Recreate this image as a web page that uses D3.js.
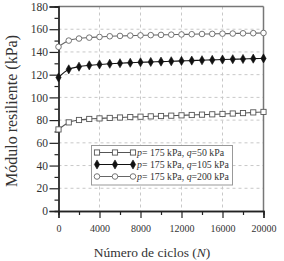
<!DOCTYPE html>
<html>
<head>
<meta charset="utf-8">
<script src="https://cdn.jsdelivr.net/npm/d3@7"></script>
<style>
body{margin:0;background:#fff;}
text{font-family:"Liberation Serif","Times New Roman",Times,serif;fill:#333;}
</style>
</head>
<body>
<div id="container"></div>
<script>
const width = 284;
const height = 261;

// data: modulus (kPa) every 1000 cycles
const cycles = d3.range(0, 20001, 1000);
const q50 = [71.8, 78, 80.1, 81, 81.5, 81.9, 82.3, 82.7, 83, 83.3, 83.6, 83.9, 84.2, 84.5, 84.8, 85.1, 85.4, 85.8, 86.2, 86.8, 87.2];
const q105 = [117.5, 124.7, 127, 128.2, 129, 129.6, 130.1, 130.5, 130.9, 131.2, 131.5, 131.8, 132.1, 132.4, 132.7, 133, 133.3, 133.6, 133.8, 134.1, 134.3];
const q200 = [144.5, 150, 151.8, 152.6, 153.2, 153.8, 154.1, 154.4, 154.6, 154.8, 155, 155.2, 155.4, 155.6, 155.8, 155.9, 156.1, 156.2, 156.4, 156.5, 156.7];
const qLabels = ['50 kPa', '105 kPa', '200 kPa'];
const xTicks = [0, 4000, 8000, 12000, 16000, 20000];
const yTicks = [0, 20, 40, 60, 80, 100, 120, 140, 160, 180];

const serif = '"Liberation Serif","Times New Roman",Times,serif';
let padL = 58.5, padR = 263.5, padT = 6.5, padB = 211;

let svg = d3.select('#container').append('svg')
  .attr('width', width).attr('height', height);

let x = d3.scaleLinear().domain([0, 20000]).range([padL, padR]);
let y = d3.scaleLinear().domain([0, 180]).range([padB, padT]);

// grid
svg.append('g').selectAll('line').data(xTicks.slice(1, -1)).enter()
  .append('line')
  .attr('x1', d => x(d)).attr('x2', d => x(d))
  .attr('y1', padT).attr('y2', padB)
  .style('stroke', '#c8c8c8').style('stroke-dasharray', '3,3');
svg.append('g').selectAll('line').data(yTicks.slice(1, -1)).enter()
  .append('line')
  .attr('x1', padL).attr('x2', padR)
  .attr('y1', d => y(d)).attr('y2', d => y(d))
  .style('stroke', '#c8c8c8').style('stroke-dasharray', '3,3');

// frame top/right
svg.append('line').attr('x1', padL).attr('x2', padR).attr('y1', padT).attr('y2', padT)
  .style('stroke', '#777').style('stroke-width', 1.5);
svg.append('line').attr('x1', padR).attr('x2', padR).attr('y1', padT).attr('y2', padB)
  .style('stroke', '#777').style('stroke-width', 1.5);

// axes
let xAxis = svg.append('g').attr('transform', 'translate(0,' + padB + ')')
  .call(d3.axisBottom(x).tickValues(xTicks).tickSize(7).tickPadding(7).tickFormat(d3.format('d')));
svg.append('g').attr('transform', 'translate(0,' + padB + ')')
  .call(d3.axisBottom(x).tickValues(d3.range(2000, 20000, 4000)).tickSize(4).tickFormat(''));
let yAxis = svg.append('g').attr('transform', 'translate(' + padL + ',0)')
  .call(d3.axisLeft(y).tickValues(yTicks).tickSize(9).tickPadding(1.5));
svg.append('g').attr('transform', 'translate(' + padL + ',0)')
  .call(d3.axisLeft(y).tickValues(d3.range(10, 180, 20)).tickSize(4).tickFormat(''));

svg.selectAll('g').attr('font-family', serif);
svg.selectAll('.domain').style('stroke', '#222').style('stroke-width', 1.3);
svg.selectAll('.tick line').style('stroke', '#222').style('stroke-width', 1.2);
svg.selectAll('.tick text').style('fill', '#333').style('font-family', serif);
xAxis.selectAll('.tick text').style('font-size', '10px');
yAxis.selectAll('.tick text').style('font-size', '11.5px');

// titles
svg.append('text')
  .attr('transform', 'translate(17,111) rotate(-90)')
  .attr('text-anchor', 'middle')
  .style('font-family', serif)
  .style('font-size', '16px')
  .text('Módulo resiliente (kPa)');

let xt = svg.append('text')
  .attr('x', 152).attr('y', 257)
  .attr('text-anchor', 'middle')
  .style('font-family', serif)
  .style('font-size', '13.5px');
xt.append('tspan').text('Número de ciclos (');
xt.append('tspan').style('font-style', 'italic').text('N');
xt.append('tspan').text(')');

// series
let series = [
  {values: q50, marker: 'square', fill: '#fff', stroke: '#555', line: '#555'},
  {values: q105, marker: 'diamond', fill: '#111', stroke: '#111', line: '#111'},
  {values: q200, marker: 'circle', fill: '#fff', stroke: '#666', line: '#666'}
];

let line = d3.line().x((d, i) => x(cycles[i])).y(d => y(d)).curve(d3.curveMonotoneX);

function drawMarker(g, type, cx, cy, s) {
  if (type == 'square') {
    g.append('rect').attr('x', cx - 2.6).attr('y', cy - 2.6).attr('width', 5.2).attr('height', 5.2)
      .style('fill', s.fill).style('stroke', s.stroke).style('stroke-width', 0.9);
  } else if (type == 'circle') {
    g.append('circle').attr('cx', cx).attr('cy', cy).attr('r', 2.8)
      .style('fill', s.fill).style('stroke', s.stroke).style('stroke-width', 0.9);
  } else {
    g.append('path').attr('d', d3.symbol().type(d3.symbolDiamond).size(24)())
      .attr('transform', 'translate(' + cx + ',' + cy + ')')
      .style('fill', s.fill).style('stroke', s.stroke).style('stroke-width', 0.6);
  }
}

series.forEach(function(s) {
  let g = svg.append('g');
  g.append('path').attr('d', line(s.values))
    .style('fill', 'none').style('stroke', s.line).style('stroke-width', 1.1);
  s.values.forEach(function(v, i) {
    drawMarker(g, s.marker, x(cycles[i]), y(v), s);
  });
});

// legend
let lg = svg.append('g');
lg.append('rect').attr('x', 91.5).attr('y', 145.5).attr('width', 141).attr('height', 39.5)
  .style('fill', '#fff').style('stroke', '#999').style('stroke-width', 1);
series.forEach(function(s, i) {
  let ly = 152.5 + i * 12;
  lg.append('line').attr('x1', 97).attr('x2', 133).attr('y1', ly).attr('y2', ly)
    .style('stroke', s.line).style('stroke-width', 1.1);
  [97, 115, 133].forEach(function(mx) { drawMarker(lg, s.marker, mx, ly, s); });
  let t = lg.append('text').attr('x', 137).attr('y', ly + 3.2)
    .style('font-family', serif).style('font-size', '9.8px');
  t.append('tspan').style('font-style', 'italic').text('p');
  t.append('tspan').text('= 175 kPa, ');
  t.append('tspan').style('font-style', 'italic').text('q');
  t.append('tspan').text('=' + qLabels[i]);
});
</script>
</body>
</html>
